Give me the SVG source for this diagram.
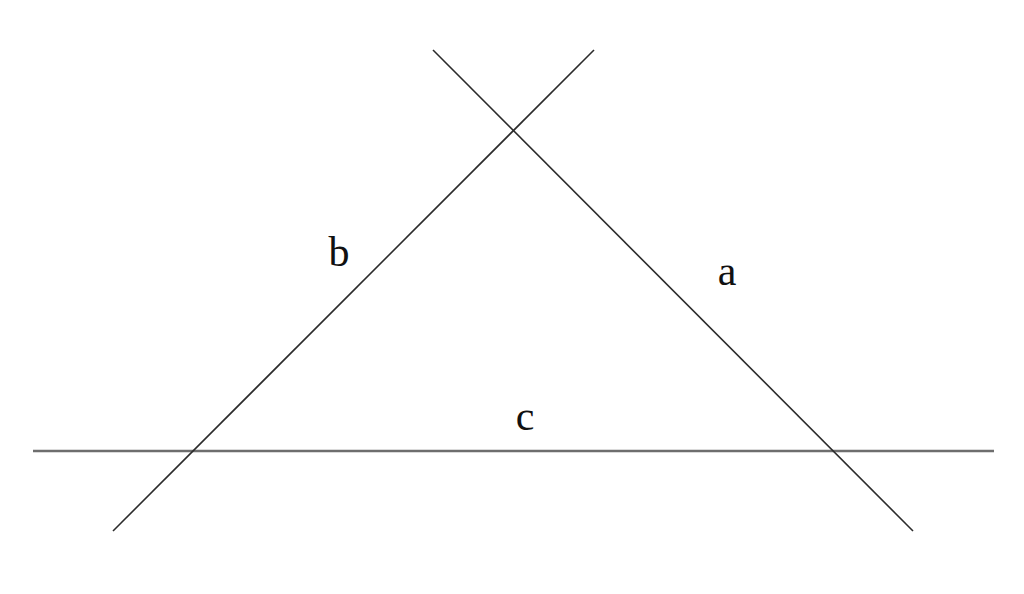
<svg xmlns="http://www.w3.org/2000/svg" width="1024" height="594" viewBox="0 0 1024 594">
<style>
.ln{stroke:#2b2b2b;stroke-width:1.6;fill:none}
.base{stroke:#6e6e6e;stroke-width:2.6;fill:none}
.lbl{font-family:"Liberation Serif","DejaVu Serif",serif;font-size:42px;fill:#111;text-anchor:middle}
</style>
<rect width="1024" height="594" fill="#fff"/>
<g id="connectors">
<line id="line-c" class="base" x1="33" y1="451" x2="994" y2="451"/>
<line id="line-b" class="ln" x1="113" y1="531" x2="594" y2="50"/>
<line id="line-a" class="ln" x1="433" y1="50" x2="913" y2="531"/>
</g>
<g id="label-b"><text class="lbl" x="339" y="266">b</text></g>
<g id="label-a"><text class="lbl" x="727" y="285">a</text></g>
<g id="label-c"><text class="lbl" x="525" y="430">c</text></g>
</svg>
